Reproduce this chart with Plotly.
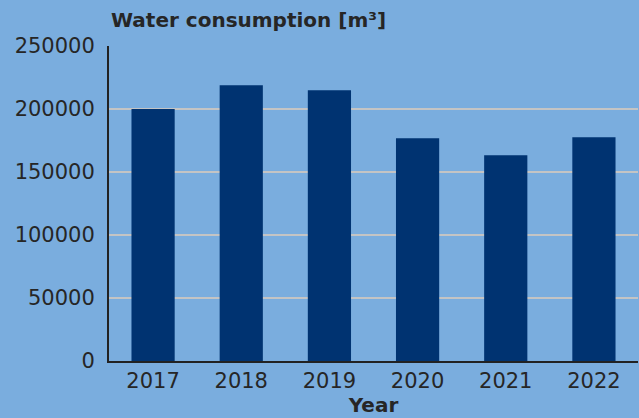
import plotly.graph_objects as go

years = ["2017", "2018", "2019", "2020", "2021", "2022"]
consumption = [200000, 218800, 214800, 176700, 163300, 177500]
y_ticks = [0, 50000, 100000, 150000, 200000, 250000]

BG = "#7AADDE"
BAR = "#003371"
TXT = "#262626"
FONT = "DejaVu Sans"

fig = go.Figure(go.Bar(x=years, y=consumption, marker=dict(color=BAR, line=dict(width=0)),
                       width=0.49))

fig.update_layout(
    width=639, height=418,
    margin=dict(l=109, r=1, t=46, b=57, pad=0),
    paper_bgcolor=BG, plot_bgcolor=BG,
    font=dict(family=FONT, color=TXT, size=21),
    showlegend=False,
    bargap=0.51,
)
fig.update_yaxes(
    range=[0, 250000], tickvals=y_ticks, ticktext=[str(v) for v in y_ticks],
    showgrid=True, gridcolor="#C4C4C4", gridwidth=1.6,
    showline=True, linecolor="#222222", linewidth=2,
    zeroline=False, ticks="", ticklabelstandoff=8,
    tickfont=dict(size=21, family=FONT, color=TXT),
)
fig.update_xaxes(
    showline=True, linecolor="#222222", linewidth=2,
    ticks="", tickfont=dict(size=21, family=FONT, color=TXT),
    title=dict(text="<b>Year</b>", font=dict(size=20, family=FONT, color=TXT), standoff=4),
)
fig.add_annotation(
    text="<b>Water consumption [m³]</b>", xref="paper", yref="paper",
    x=0, y=1, xanchor="left", yanchor="bottom", yshift=12, showarrow=False,
    font=dict(size=20, family=FONT, color=TXT),
)

fig.write_html("out.html", config={"displayModeBar": False},
               post_script="document.body.style.margin='0';document.body.style.background='%s';" % BG)
